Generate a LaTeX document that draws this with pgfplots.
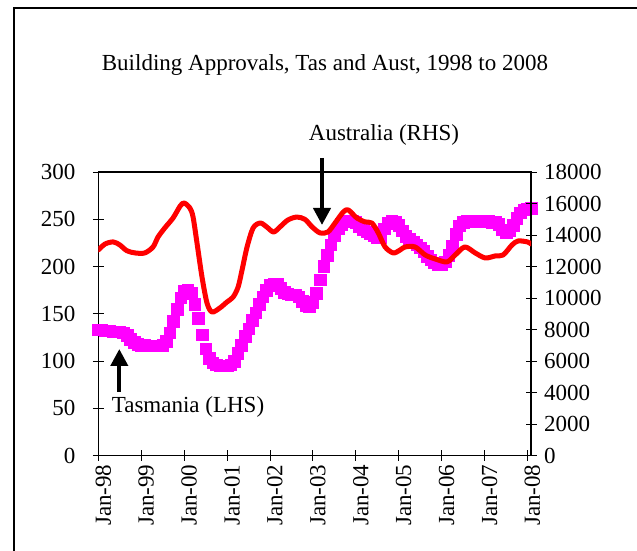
\documentclass[border=0pt]{standalone}
\usepackage{fontspec}
\setmainfont{Liberation Serif}
\usepackage{pgfplots}
\pgfplotsset{compat=1.18}
\usetikzlibrary{arrows.meta}
\definecolor{tasmag}{RGB}{255,0,255}
\definecolor{ausred}{RGB}{255,0,0}
\begin{document}
\begin{tikzpicture}[x=1bp,y=1bp]
\useasboundingbox (0,0) rectangle (637,551);
\draw[line width=1.3bp] (14,-5) -- (14,543) -- (650,543);
\pgfplotsset{
  myaxis/.style={
    scale only axis, width=432.7bp, height=283.5bp,
    at={(98.3bp,95.5bp)}, anchor=south west,
    xmin=0, xmax=121,
    tick align=center, major tick length=11bp,
    tick style={black, line width=0.9bp},
    axis line style={line width=1.1bp},
    tick label style={font=\fontsize{23bp}{27bp}\selectfont},
    /pgf/number format/assume math mode=true,
    /pgf/number format/1000 sep={},
    scaled y ticks=false,
  }
}
\begin{axis}[myaxis,
  ymin=0, ymax=300,
  ytick={0,50,...,300},
  xtick={0,12,...,120},
  xticklabels={Jan-98,Jan-99,Jan-00,Jan-01,Jan-02,Jan-03,Jan-04,Jan-05,Jan-06,Jan-07,Jan-08},
  xtick pos=bottom, ytick pos=left,
  xticklabel style={rotate=90, anchor=east, yshift=-5bp},
  yticklabel style={xshift=-14bp},
  clip=false,
]
\addplot[only marks, mark=square*, mark size=5.8bp, color=tasmag, mark options={draw=tasmag, fill=tasmag}] coordinates {
(0,133)(1,133)(2,132)(3,132)(4,131)(5,131)(6,131)(7,130)(8,127)(9,123)(10,120)(11,118)
(12,117)(13,117)(14,116)(15,116)(16,116)(17,116)(18,117)(19,121)(20,130)(21,142)(22,155)(23,167)
(24,174)(25,175)(26,172)(27,160)(28,145)(29,128)(30,113)(31,103)(32,98)(33,96)(34,95)(35,95)
(36,95)(37,96)(38,100)(39,108)(40,117)(41,126)(42,134)(43,143)(44,151)(45,160)(46,168)(47,175)
(48,180)(49,182)(50,181)(51,177)(52,173)(53,171)(54,170)(55,170)(56,168)(57,163)(58,159)(59,158)
(60,162)(61,172)(62,186)(63,200)(64,212)(65,223)(66,233)(67,240)(68,245)(69,248)(70,248)(71,248)
(72,247)(73,242)(74,239)(75,237)(76,235)(77,233)(78,231)(79,231)(80,240)(81,246)(82,248)(83,247)
(84,244)(85,238)(86,232)(87,229)(88,226)(89,223)(90,220)(91,216)(92,211)(93,207)(94,204)(95,202)
(96,202)(97,205)(98,212)(99,222)(100,234)(101,243)(102,247)(103,248)(104,248)(105,248)(106,248)(107,248)
(108,248)(109,248)(110,247)(111,247)(112,245)(113,239)(114,236)(115,238)(116,244)(117,251)(118,257)(119,260)
(120,261)(121,262)
};
\end{axis}
\begin{axis}[myaxis,
  ymin=0, ymax=18000,
  ytick={0,2000,...,18000},
  axis x line=none, axis y line*=right,
  yticklabel style={xshift=4bp},
]
\addplot[ausred, line width=5bp, smooth, tension=0.5, line join=round, line cap=round] coordinates {
(0,13050)(1.9,13430)(4.2,13560)(6,13370)(8,13000)(10.3,12860)(13,12860)(15.3,13240)(16.7,13870)
(18.6,14450)(20.9,15080)(22.9,15840)(24,16030)(25.6,15720)(26.5,15140)(27.6,13490)(29,11330)
(30.4,9680)(31.8,9110)(34,9370)(36,9750)(37.7,10060)(39.1,10700)(40.2,11780)(41.6,13240)
(43.3,14450)(45.3,14760)(47.1,14510)(49,14190)(50.8,14510)(53,14950)(55.5,15140)(57.8,14990)
(59.8,14510)(62,14130)(64.2,14190)(66.2,14760)(68.5,15460)(69.9,15590)(72.3,15080)(74.6,14830)
(76.5,14760)(78.3,14130)(80.2,13240)(82.5,12860)(84.4,13050)(85.8,13240)(88.6,13240)(91.4,12730)
(94.2,12480)(97.5,12290)(99.8,12730)(102.5,13240)(105.4,12860)(108.2,12540)(111,12670)(113.2,12730)
(115.7,13370)(117.4,13620)(120,13560)(121,13430)
};
\end{axis}
\node[font=\fontsize{23bp}{27bp}\selectfont] at (325,486) {Building Approvals, Tas and Aust, 1998 to 2008};
\node[font=\fontsize{23bp}{27bp}\selectfont] at (384,416) {Australia (RHS)};
\node[font=\fontsize{23bp}{27bp}\selectfont] at (188,144) {Tasmania (LHS)};
\draw[line width=4bp, -{Triangle[width=17bp,length=17bp]}] (322,393) -- (322,326);
\draw[line width=4bp, -{Triangle[width=17bp,length=17bp]}] (119.3,159) -- (119.3,202);
\end{tikzpicture}
\end{document}
